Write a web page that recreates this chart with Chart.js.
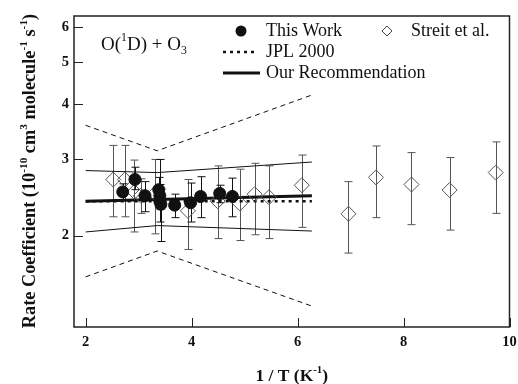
<!DOCTYPE html>
<html>
<head>
<meta charset="utf-8">
<script src="https://cdn.jsdelivr.net/npm/chart.js@4/dist/chart.umd.min.js"></script>
<style>
body{margin:0;background:#fff;}
canvas{display:block;}
</style>
</head>
<body>
<canvas id="rate_chart" width="518" height="384"></canvas>
<script>
// x = 1/T (K^-1), y = rate coefficient (1e-10 cm3 molecule-1 s-1)
const workX  = [2.70, 2.93, 3.12, 3.38, 3.40, 3.40, 3.42, 3.68, 3.98, 4.17, 4.53, 4.77];
const workY  = [2.52, 2.69, 2.47, 2.55, 2.47, 2.40, 2.36, 2.35, 2.38, 2.46, 2.50, 2.46];
const workLo = [2.42, 2.55, 2.27, 2.40, 2.30, 2.15, 1.94, 2.20, 2.15, 2.20, 2.38, 2.21];
const workHi = [2.63, 2.87, 2.66, 2.72, 2.99, 2.62, 2.56, 2.49, 2.64, 2.73, 2.61, 2.71];

const streitX  = [2.52, 2.74, 2.92, 3.04, 3.31, 3.93, 4.49, 4.91, 5.19, 5.46, 6.08, 6.96, 7.48, 8.15, 8.87, 9.74];
const streitY  = [2.69, 2.69, 2.52, 2.47, 2.50, 2.28, 2.40, 2.37, 2.49, 2.45, 2.61, 2.245, 2.72, 2.62, 2.545, 2.79];
const streitLo = [2.21, 2.21, 2.04, 2.25, 2.02, 1.86, 1.97, 1.95, 2.01, 1.97, 2.09, 1.825, 2.20, 2.12, 2.06, 2.25];
const streitHi = [3.22, 3.22, 2.98, 2.70, 2.99, 2.69, 2.89, 2.84, 2.93, 2.89, 3.06, 2.66, 3.21, 3.10, 3.02, 3.28];

// recommendation / JPL lines and their uncertainty envelopes
const lineX    = [2.0, 3.35, 6.27];
const recY     = [2.40, 2.42, 2.47];
const jplY     = [2.40, 2.40, 2.40];
const recUpper = [2.82, 2.79, 2.95];
const recLower = [2.04, 2.11, 2.05];
const jplUpper = [3.58, 3.13, 4.20];
const jplLower = [1.61, 1.845, 1.38];

const xTicks = [2, 4, 6, 8, 10];
const yTicks = [2, 3, 4, 5, 6];

const SERIF = "'Liberation Serif', 'Times New Roman', serif";

function pts(xs, ys)
{
    return xs.map(function(x, i) { return {x: x, y: ys[i]}; });
}

function lineSet(ys, width, dash)
{
    return {
        data: pts(lineX, ys),
        showLine: true,
        borderColor: '#111',
        borderWidth: width,
        borderDash: dash,
        pointRadius: 0,
        fill: false
    };
}

// rich text with super/subscripts: parts = [[text, shift]], shift 1 = sup, -1 = sub
function richWidth(ctx, parts, size, weight)
{
    let w = 0;
    for (const p of parts) {
        const s = p[1] ? size * 0.62 : size;
        ctx.font = weight + " " + s + "px " + SERIF;
        w += ctx.measureText(p[0]).width;
    }
    return w;
}

function drawRich(ctx, parts, x, y, size, weight)
{
    ctx.textAlign = 'left';
    ctx.textBaseline = 'alphabetic';
    for (const p of parts) {
        const s = p[1] ? size * 0.62 : size;
        ctx.font = weight + " " + s + "px " + SERIF;
        let dy = 0;
        if (p[1] == 1) dy = -size * 0.45;
        if (p[1] == -1) dy = size * 0.22;
        ctx.fillText(p[0], x, y + dy);
        x += ctx.measureText(p[0]).width;
    }
}

const errorBars = {
    id: 'errorBars',
    beforeDatasetsDraw(chart) {
        const ctx = chart.ctx;
        const xs = chart.scales.x, ys = chart.scales.y;
        function bars(X, Lo, Hi, colour)
        {
            ctx.strokeStyle = colour;
            ctx.lineWidth = 1;
            for (let i = 0; i < X.length; i++) {
                const px = Math.round(xs.getPixelForValue(X[i])) + 0.5;
                const top = ys.getPixelForValue(Hi[i]);
                const bot = ys.getPixelForValue(Lo[i]);
                ctx.beginPath();
                ctx.moveTo(px, top); ctx.lineTo(px, bot);
                ctx.moveTo(px - 4, top); ctx.lineTo(px + 4, top);
                ctx.moveTo(px - 4, bot); ctx.lineTo(px + 4, bot);
                ctx.stroke();
            }
        }
        ctx.save();
        bars(streitX, streitLo, streitHi, '#555');
        bars(workX, workLo, workHi, '#111');
        ctx.restore();
    }
};

const frame = {
    id: 'frame',
    afterDraw(chart) {
        const ctx = chart.ctx;
        const a = chart.chartArea;
        const xs = chart.scales.x, ys = chart.scales.y;
        ctx.save();
        ctx.strokeStyle = '#222';
        ctx.lineWidth = 1.5;
        ctx.strokeRect(a.left, a.top, a.right - a.left, a.bottom - a.top);

        // inward tick marks
        ctx.lineWidth = 1;
        ctx.beginPath();
        for (const t of xTicks) {
            const px = Math.round(xs.getPixelForValue(t)) + 0.5;
            ctx.moveTo(px, a.bottom); ctx.lineTo(px, a.bottom - 9);
        }
        for (const t of yTicks) {
            const py = Math.round(ys.getPixelForValue(t)) + 0.5;
            ctx.moveTo(a.left, py); ctx.lineTo(a.left + 9, py);
        }
        ctx.stroke();

        ctx.fillStyle = '#111';
        // reaction label
        drawRich(ctx, [["O(", 0], ["1", 1], ["D) + O", 0], ["3", -1]], 101, 50, 19, 'normal');

        // legend
        ctx.beginPath();
        ctx.arc(241, 31, 5.5, 0, Math.PI * 2);
        ctx.fill();
        ctx.strokeStyle = '#444';
        ctx.lineWidth = 1;
        ctx.beginPath();
        ctx.moveTo(382, 31); ctx.lineTo(387, 26); ctx.lineTo(392, 31); ctx.lineTo(387, 36);
        ctx.closePath();
        ctx.stroke();

        ctx.strokeStyle = '#111';
        ctx.lineWidth = 2.5;
        ctx.setLineDash([3, 4]);
        ctx.beginPath();
        ctx.moveTo(223, 52); ctx.lineTo(258, 52);
        ctx.stroke();
        ctx.setLineDash([]);
        ctx.lineWidth = 3;
        ctx.beginPath();
        ctx.moveTo(223, 73); ctx.lineTo(260, 73);
        ctx.stroke();

        drawRich(ctx, [["This Work", 0]], 266, 36, 18, 'normal');
        drawRich(ctx, [["Streit et al.", 0]], 411, 36, 18, 'normal');
        drawRich(ctx, [["JPL 2000", 0]], 266, 57, 18, 'normal');
        drawRich(ctx, [["Our Recommendation", 0]], 266, 78, 18, 'normal');

        // axis titles
        const xt = [["1 / T (K", 0], ["-1", 1], [")", 0]];
        const xw = richWidth(ctx, xt, 17.5, 'bold');
        drawRich(ctx, xt, (a.left + a.right) / 2 - xw / 2, 381, 17.5, 'bold');

        const yt = [["Rate Coefficient (10", 0], ["-10", 1], [" cm", 0], ["3", 1],
                    [" molecule", 0], ["-1", 1], [" s", 0], ["-1", 1], [")", 0]];
        const yw = richWidth(ctx, yt, 18.3, 'bold');
        ctx.translate(35, 171);
        ctx.rotate(-Math.PI / 2);
        drawRich(ctx, yt, -yw / 2, 0, 18.3, 'bold');
        ctx.restore();
    }
};

const ctx = document.getElementById('rate_chart').getContext('2d');
const rateChart = new Chart(ctx, {
    type: 'scatter',
    data: {
        datasets: [
            {
                data: pts(workX, workY),
                pointStyle: 'circle',
                pointRadius: 6,
                backgroundColor: '#111',
                borderColor: '#111',
                borderWidth: 1
            },
            {
                data: pts(streitX, streitY),
                pointStyle: 'rectRot',
                pointRadius: 7.5,
                backgroundColor: 'rgba(0,0,0,0)',
                borderColor: '#555',
                borderWidth: 1
            },
            lineSet(recY, 3, []),
            lineSet(jplY, 2.5, [3, 4]),
            lineSet(recUpper, 1, []),
            lineSet(recLower, 1, []),
            lineSet(jplUpper, 1, [5, 4]),
            lineSet(jplLower, 1, [5, 4])
        ]
    },
    options: {
        responsive: false,
        animation: false,
        layout: { padding: { top: 16, right: 6, left: 0, bottom: 0 } },
        plugins: {
            legend: { display: false },
            tooltip: { enabled: false }
        },
        scales: {
            x: {
                type: 'linear',
                min: 1.78,
                max: 10,
                grid: { display: false, drawTicks: false },
                border: { display: false },
                afterBuildTicks: function(s) { s.ticks = xTicks.map(v => ({value: v})); },
                afterFit: function(s) { s.height = 57; s.paddingLeft = 0; s.paddingRight = 0; },
                ticks: {
                    padding: 7,
                    color: '#111',
                    font: { family: SERIF, size: 14.5, weight: 'bold' },
                    maxRotation: 0,
                    callback: v => String(v)
                }
            },
            y: {
                type: 'logarithmic',
                min: 1.236,
                max: 6.37,
                grid: { display: false, drawTicks: false },
                border: { display: false },
                afterBuildTicks: function(s) { s.ticks = yTicks.map(v => ({value: v})); },
                afterFit: function(s) { s.width = 74; s.paddingTop = 0; s.paddingBottom = 0; },
                ticks: {
                    padding: 5,
                    color: '#111',
                    font: { family: SERIF, size: 14.5, weight: 'bold' },
                    callback: v => String(v)
                }
            }
        }
    },
    plugins: [errorBars, frame]
});
</script>
</body>
</html>
